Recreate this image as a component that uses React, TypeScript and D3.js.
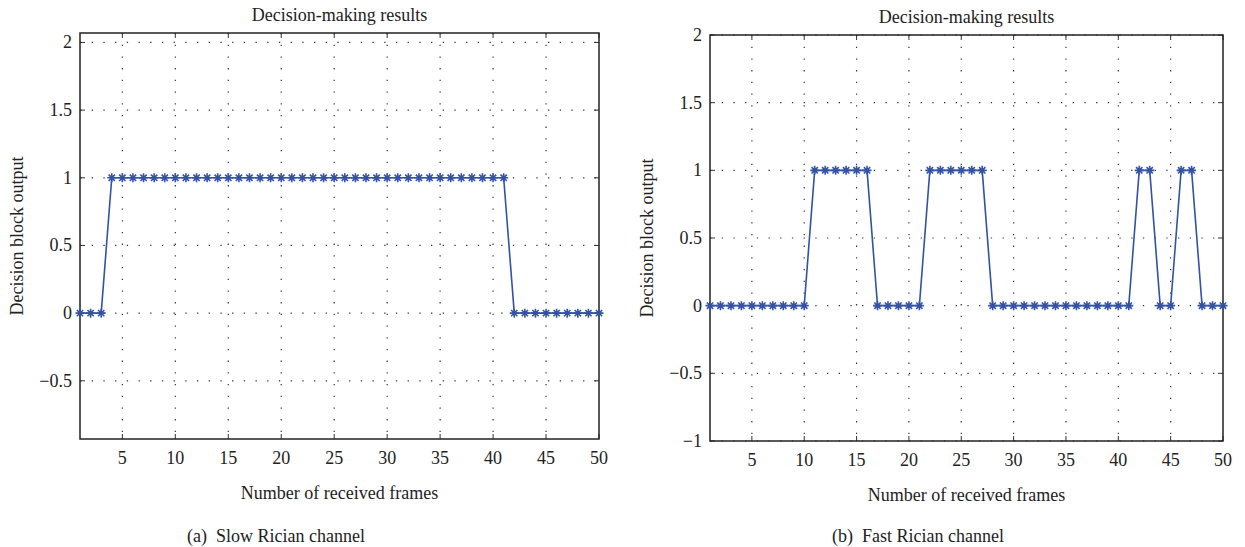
import * as d3 from "d3";

// decision block output per received frame
const slowRician = [
  0, 0, 0, 1, 1, 1, 1, 1, 1, 1,
  1, 1, 1, 1, 1, 1, 1, 1, 1, 1,
  1, 1, 1, 1, 1, 1, 1, 1, 1, 1,
  1, 1, 1, 1, 1, 1, 1, 1, 1, 1,
  1, 0, 0, 0, 0, 0, 0, 0, 0, 0,
];
const fastRician = [
  0, 0, 0, 0, 0, 0, 0, 0, 0, 0,
  1, 1, 1, 1, 1, 1, 0, 0, 0, 0,
  0, 1, 1, 1, 1, 1, 1, 0, 0, 0,
  0, 0, 0, 0, 0, 0, 0, 0, 0, 0,
  0, 1, 1, 0, 0, 1, 1, 0, 0, 0,
];
const frames = slowRician.map((_, i) => i + 1);

const xTicks = [5, 10, 15, 20, 25, 30, 35, 40, 45, 50];
const yTicksSlow = [-0.5, 0, 0.5, 1, 1.5, 2];
const yTicksFast = [-1, -0.5, 0, 0.5, 1, 1.5, 2];

const TITLE = "Decision-making results";
const XLABEL = "Number of received frames";
const YLABEL = "Decision block output";

const FONT = "'Liberation Serif', 'DejaVu Serif', serif";
const TEXT = "#222";
const LINE = "#3352a6";
const FS = 18;

const fmt = (v: number) => (v < 0 ? "\u2212" + String(-v) : String(v));

function Panel({ values, yTicks, yDomain, left, right, top, bottom, caption, captionX }) {
  const x = d3.scaleLinear().domain([1, 50]).range([left, right]);
  const y = d3.scaleLinear().domain(yDomain).range([bottom, top]);
  const line = d3
    .line<number>()
    .x((_, i) => x(frames[i]))
    .y((d) => y(d));
  const cx = (left + right) / 2;
  const cy = (top + bottom) / 2;
  const r = 4.5;

  return (
    <g fontFamily={FONT} fill={TEXT}>
      {/* grid */}
      {xTicks
        .filter((t) => t < 50)
        .map((t) => (
          <line key={"gx" + t} x1={x(t)} x2={x(t)} y1={top} y2={bottom}
            stroke="#333" strokeWidth={1.2} strokeDasharray="1.3 10.4" />
        ))}
      {yTicks.map((t) => (
        <line key={"gy" + t} x1={left} x2={right} y1={y(t)} y2={y(t)}
          stroke="#333" strokeWidth={1.2} strokeDasharray="1.3 10.4" />
      ))}

      {/* ticks inside */}
      {xTicks.map((t) => (
        <g key={"tx" + t}>
          <line x1={x(t)} x2={x(t)} y1={bottom} y2={bottom - 5} stroke="#333" />
          <line x1={x(t)} x2={x(t)} y1={top} y2={top + 5} stroke="#333" />
          <text x={x(t)} y={bottom + 25} textAnchor="middle" fontSize={FS}>{fmt(t)}</text>
        </g>
      ))}
      {yTicks.map((t) => (
        <g key={"ty" + t}>
          <line x1={left} x2={left + 5} y1={y(t)} y2={y(t)} stroke="#333" />
          <line x1={right} x2={right - 5} y1={y(t)} y2={y(t)} stroke="#333" />
          <text x={left - 8} y={y(t) + 6} textAnchor="end" fontSize={FS}>{fmt(t)}</text>
        </g>
      ))}

      {/* box */}
      <rect x={left} y={top} width={right - left} height={bottom - top}
        fill="none" stroke="#222" strokeWidth={1.5} />

      {/* series */}
      <path d={line(values) ?? ""} fill="none" stroke={LINE} strokeWidth={1.6} />
      {values.map((v, i) => {
        const px = x(frames[i]);
        const py = y(v);
        return (
          <path key={"m" + i}
            d={`M${px - r},${py}H${px + r}M${px},${py - r}V${py + r}` +
              `M${px - r * 0.7},${py - r * 0.7}L${px + r * 0.7},${py + r * 0.7}` +
              `M${px - r * 0.7},${py + r * 0.7}L${px + r * 0.7},${py - r * 0.7}`}
            stroke={LINE} strokeWidth={1.6} fill="none" />
        );
      })}

      {/* labels */}
      <text x={cx} y={top - 12} textAnchor="middle" fontSize={FS}>{TITLE}</text>
      <text x={cx} y={bottom + 60} textAnchor="middle" fontSize={FS}>{XLABEL}</text>
      <text transform={`translate(${left - 57},${cy}) rotate(-90)`} textAnchor="middle" fontSize={FS}>{YLABEL}</text>
      <text x={captionX} y={542} textAnchor="middle" fontSize={FS}>{caption}</text>
    </g>
  );
}

export default function App() {
  return (
    <div style={{ position: "absolute", left: 0, top: 0 }}>
      <svg width={1245} height={547} style={{ display: "block", background: "#fff" }}>
        <Panel values={slowRician} yTicks={yTicksSlow} yDomain={[-0.93, 2.07]}
          left={80} right={599} top={33} bottom={439}
          caption={"(a)\u2002Slow Rician channel"} captionX={276} />
        <Panel values={fastRician} yTicks={yTicksFast} yDomain={[-1, 2]}
          left={710} right={1223} top={35} bottom={441}
          caption={"(b)\u2002Fast Rician channel"} captionX={918} />
      </svg>
    </div>
  );
}
